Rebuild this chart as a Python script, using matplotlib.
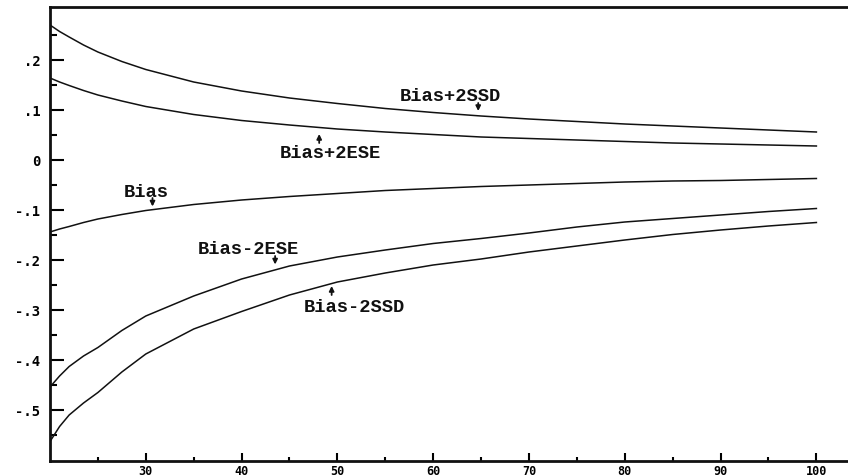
import matplotlib
matplotlib.use("Agg")
import matplotlib.pyplot as plt

# Sample sizes at which the simulation summaries were tabulated
n = [20, 21, 22, 23.5, 25, 27.5, 30, 35, 40, 45, 50, 55, 60, 65, 70, 75, 80, 85, 90, 95, 100]

bias_plus_2ssd = [0.270, 0.257, 0.246, 0.230, 0.216, 0.197, 0.181, 0.156, 0.138, 0.124, 0.113,
                  0.103, 0.095, 0.088, 0.082, 0.077, 0.072, 0.068, 0.064, 0.060, 0.056]
bias_plus_2ese = [0.164, 0.156, 0.149, 0.139, 0.130, 0.118, 0.107, 0.091, 0.079, 0.070, 0.062,
                  0.056, 0.051, 0.046, 0.043, 0.040, 0.037, 0.034, 0.032, 0.030, 0.028]
bias = [-0.144, -0.138, -0.133, -0.125, -0.118, -0.109, -0.101, -0.089, -0.080, -0.073, -0.067,
        -0.061, -0.057, -0.053, -0.050, -0.047, -0.044, -0.042, -0.041, -0.039, -0.037]
bias_minus_2ese = [-0.454, -0.432, -0.413, -0.392, -0.375, -0.341, -0.312, -0.272, -0.238,
                   -0.212, -0.194, -0.180, -0.167, -0.157, -0.146, -0.134, -0.124, -0.117,
                   -0.110, -0.103, -0.097]
bias_minus_2ssd = [-0.563, -0.533, -0.510, -0.486, -0.465, -0.424, -0.388, -0.338, -0.303,
                   -0.270, -0.244, -0.226, -0.210, -0.198, -0.184, -0.172, -0.160, -0.149,
                   -0.140, -0.132, -0.125]

x_ticks = [30, 40, 50, 60, 70, 80, 90, 100]
x_tick_labels = ["30", "40", "50", "60", "70", "80", "90", "100"]
y_ticks = [0.2, 0.1, 0.0, -0.1, -0.2, -0.3, -0.4, -0.5]
y_tick_labels = [".2", ".1", "0", "-.1", "-.2", "-.3", "-.4", "-.5"]

fig = plt.figure(figsize=(8.48, 4.77), dpi=100)
ax = fig.add_axes([50 / 848, 1 - 462 / 477, 1 - 50 / 848, (462 - 8) / 477])

for series in (bias_plus_2ssd, bias_plus_2ese, bias, bias_minus_2ese, bias_minus_2ssd):
    ax.plot(n, series, color="#111111", lw=1.1)

ax.set_xlim(20, 103.3)
ax.set_ylim(-0.602, 0.306)

ax.set_xticks(x_ticks)
ax.set_xticklabels(x_tick_labels, family="DejaVu Sans Mono", weight="bold", size=8.5)
ax.set_yticks(y_ticks)
ax.set_yticklabels(y_tick_labels, family="DejaVu Sans Mono", weight="bold", size=10)
ax.set_xticks([25, 35, 45, 55, 65, 75, 85, 95], minor=True)
ax.set_yticks([0.25, 0.15, 0.05, -0.05, -0.15, -0.25, -0.35, -0.45, -0.55], minor=True)

ax.tick_params(axis="y", which="major", direction="in", length=10, width=1.5, pad=7)
ax.tick_params(axis="y", which="minor", direction="in", length=5, width=1.5)
ax.tick_params(axis="x", which="major", direction="in", length=6, width=1.5, pad=2)
ax.tick_params(axis="x", which="minor", direction="in", length=3, width=1.5)

for side in ("left", "top", "bottom"):
    ax.spines[side].set_linewidth(2)
    ax.spines[side].set_color("#111111")
ax.spines["right"].set_visible(False)

label_font = dict(family="Liberation Mono", weight="bold", size=13.5, color="#111111")
arrow = dict(arrowstyle="-|>", mutation_scale=7, lw=1.3, color="#111111",
             shrinkA=0, shrinkB=0)

# (label, text x, text y, arrow x, arrow tail y, arrow head y)
labels = [
    ("Bias+2SSD", 61.8, 0.128, 64.7, 0.114, 0.098),
    ("Bias+2ESE", 49.3, 0.014, 48.1, 0.034, 0.052),
    ("Bias", 30.0, -0.064, 30.7, -0.076, -0.093),
    ("Bias-2ESE", 40.7, -0.178, 43.5, -0.192, -0.209),
    ("Bias-2SSD", 51.8, -0.294, 49.4, -0.270, -0.252),
]
for text, tx, ty, axx, ay0, ay1 in labels:
    ax.text(tx, ty, text, ha="center", va="center", **label_font)
    ax.annotate("", xy=(axx, ay1), xytext=(axx, ay0), arrowprops=arrow)

fig.savefig("out.png", dpi=100)
